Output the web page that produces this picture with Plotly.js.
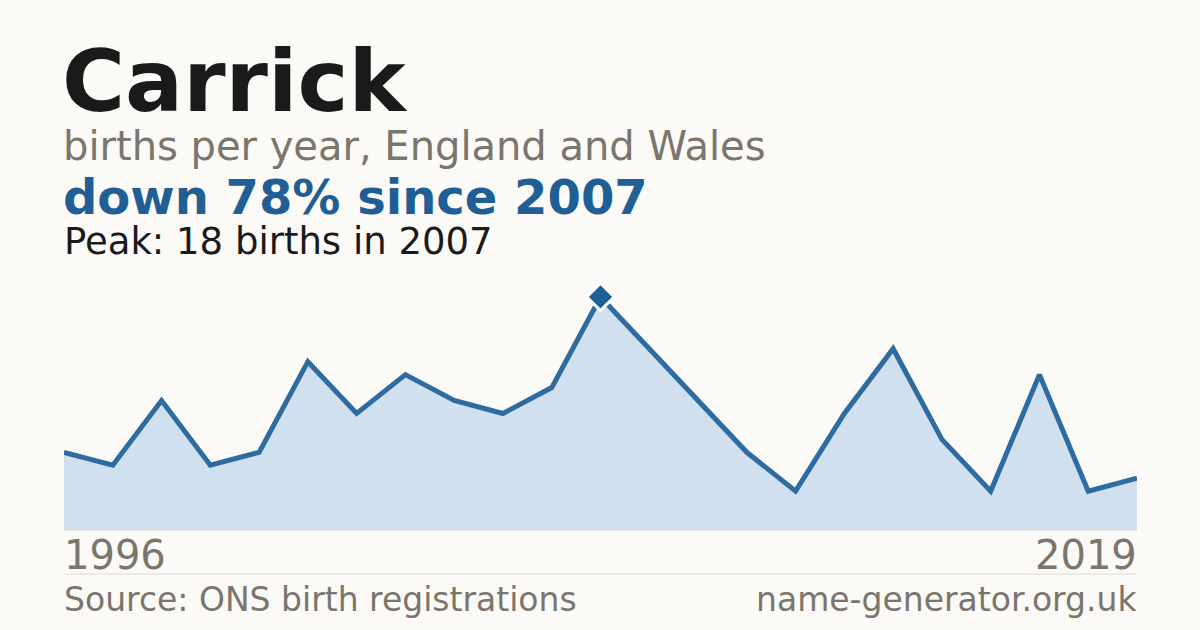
<!DOCTYPE html>
<html>
<head>
<meta charset="utf-8">
<script src="https://cdn.plot.ly/plotly-3.0.1.min.js"></script>
<style>
  html, body { margin: 0; padding: 0; background: #fbfaf6; }
  #plot { width: 1200px; height: 630px; }
</style>
</head>
<body>
<div id="plot"></div>
<script>
// births per year, one entry per plotted point (left to right)
const births = [6, 5, 10, 5, 6, 13, 9, 12, 10, 9, 11, 18, 14, 10, 6, 3, 9, 14, 7, 3, 12, 3, 4];
const endLabels = ["1996", "2019"];
const peakIndex = 11;

const W = 1200;
const H = 630;
const M = { l: 64, r: 63, t: 284, b: 100 };
const plotH = H - M.t - M.b;

// pixel y -> paper y (relative to the plot area)
function py(y) {
  return (H - M.b - y) / plotH;
}
function px(x) {
  return (x - M.l) / (W - M.l - M.r);
}

const xs = births.map((_, i) => i);
const FONT = "DejaVu Sans, sans-serif";
const GREY = "#7a756d";
const BLUE = "#1f5f96";

const area = {
  type: "scatter",
  mode: "lines",
  x: xs,
  y: births,
  fill: "tozeroy",
  fillcolor: "#d0e0ef",
  line: { color: "#2d6ba1", width: 5 },
  hoverinfo: "skip",
};

const peak = {
  type: "scatter",
  mode: "markers",
  x: [peakIndex],
  y: [births[peakIndex]],
  marker: { symbol: "diamond", size: 21, color: BLUE, line: { color: "#ffffff", width: 3 } },
  cliponaxis: false,
  hoverinfo: "skip",
};

function note(text, x, y, size, color, opts = {}) {
  return Object.assign({
    text, xref: "paper", yref: "paper", x: px(x), y: py(y),
    xanchor: "left", yanchor: "middle", showarrow: false,
    font: { family: FONT, size, color },
  }, opts);
}

const layout = {
  width: W,
  height: H,
  paper_bgcolor: "#fbfaf6",
  plot_bgcolor: "#fbfaf6",
  margin: M,
  showlegend: false,
  xaxis: { range: [0, births.length - 1], visible: false, fixedrange: true },
  yaxis: { range: [0, 19], visible: false, fixedrange: true },
  shapes: [
    { type: "line", xref: "paper", yref: "paper", x0: 0, x1: 1, y0: 0, y1: 0,
      line: { color: "#dcdad5", width: 1 } },
    { type: "line", xref: "paper", yref: "paper", x0: 0, x1: 1, y0: py(574), y1: py(574),
      line: { color: "#dcdad5", width: 1 } },
  ],
  annotations: [
    note("<b>Carrick</b>", 60, 81, 86, "#1a1a1a"),
    note("births per year, England and Wales", 61, 146, 40, GREY),
    note("<b>down 78% since 2007</b>", 61, 197, 48, BLUE),
    note("Peak: 18 births in 2007", 62, 241, 37, "#1a1a1a"),
    note(endLabels[0], 62, 555, 40, GREY),
    note(endLabels[1], 1139, 555, 40, GREY, { xanchor: "right" }),
    note("Source: ONS birth registrations", 62, 599, 33, GREY),
    note("name-generator.org.uk", 1139, 599, 33, GREY, { xanchor: "right" }),
  ],
};

Plotly.newPlot("plot", [area, peak], layout, { staticPlot: true });
</script>
</body>
</html>
